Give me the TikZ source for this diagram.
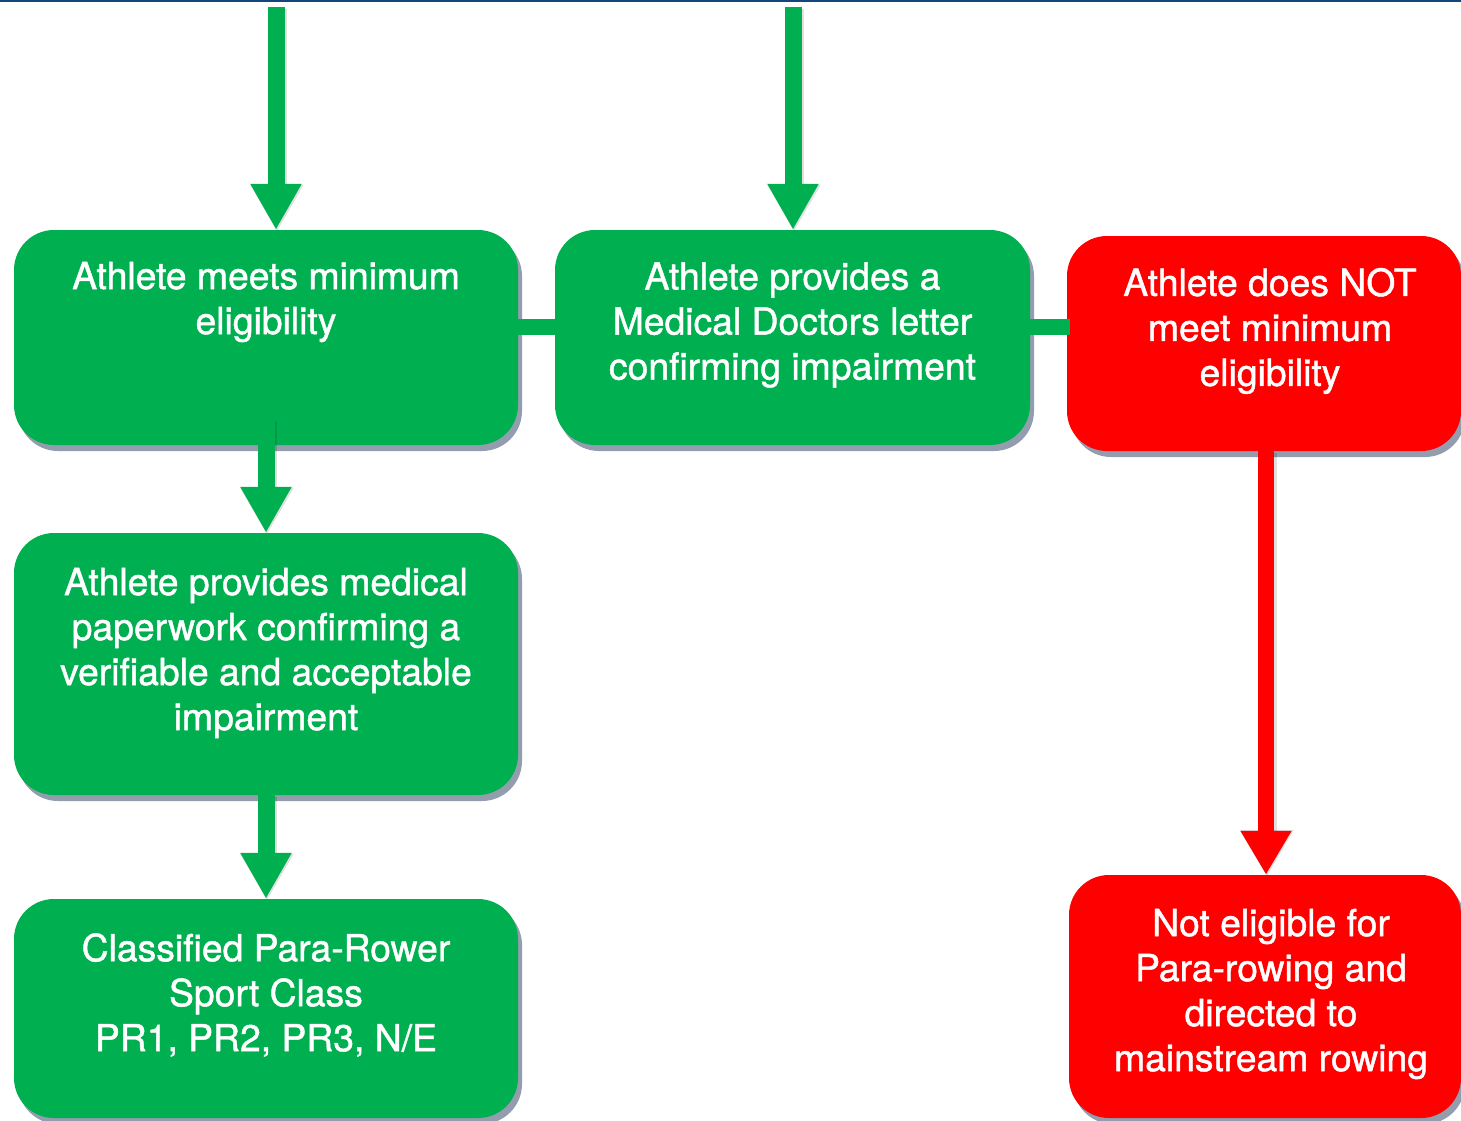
\documentclass[tikz,border=0pt]{standalone}
\usepackage{fontspec}
\setmainfont{Liberation Sans}
\newfontfamily\boxfont{TeX Gyre Heros}[FakeBold=1.2]
\usetikzlibrary{arrows.meta,shadows}
\definecolor{boxgreen}{RGB}{0,176,80}
\definecolor{boxred}{RGB}{255,0,0}
\definecolor{shadowgray}{RGB}{147,157,174}
\definecolor{topblue}{RGB}{20,70,125}
\tikzset{
  box/.style={rectangle, rounded corners=40pt, inner sep=0pt, draw=none,
    drop shadow={shadow xshift=4pt, shadow yshift=-6pt, fill=shadowgray, opacity=1}},
  gbox/.style={box, fill=boxgreen},
  rbox/.style={box, fill=boxred},
  txt/.style={text=white, align=center, inner sep=0pt,
    font=\boxfont\fontsize{37.3}{45}\selectfont},
  garrow/.style={draw=boxgreen, line width=17pt, -{Triangle[width=48pt,length=46pt]}},
  rarrow/.style={draw=boxred, line width=16pt, -{Triangle[width=48pt,length=44pt]}},
  ashadow/.style={draw=black, draw opacity=0.12, line width=19pt, -{Triangle[width=50pt,length=47pt]},
    transform canvas={xshift=1pt, yshift=-2pt}},
  gline/.style={draw=boxgreen, line width=16pt},
}
\begin{document}
\begin{tikzpicture}[x=1pt,y=-1pt]
\useasboundingbox (0,0) rectangle (1461,1121);
\fill[white] (0,0) rectangle (1461,1121);
\fill[topblue] (0,0) rectangle (1461,2);
% boxes
\node[gbox, minimum width=504pt, minimum height=215pt] (A) at (266,337.5) {};
\node[gbox, minimum width=475pt, minimum height=215pt] (B) at (792.5,337.5) {};
\node[rbox, minimum width=394pt, minimum height=215pt] (C) at (1264,343.5) {};
\node[gbox, minimum width=504pt, minimum height=262pt] (D) at (266,664) {};
\node[gbox, minimum width=504pt, minimum height=219pt] (E) at (266,1008.5) {};
\node[rbox, minimum width=392pt, minimum height=243pt] (F) at (1265,996.5) {};
% coordinates for free ends
\coordinate (t1) at (276,7);
\coordinate (t2) at (793,7);
\coordinate (a1) at (266,419);
\coordinate (r1) at (1266,0);
\coordinate (h1) at (0,327);
% connector shadows
\draw[ashadow] (t1) -- (t1 |- A.north);
\draw[ashadow] (t2) -- (t2 |- B.north);
\draw[ashadow] (a1) -- (a1 |- D.north);
\draw[ashadow] (D.south) -- (E.north);
\draw[ashadow] (r1 |- C.south) -- (r1 |- F.north);
% connectors
\draw[garrow] (t1) -- (t1 |- A.north);
\draw[garrow] (t2) -- (t2 |- B.north);
\draw[gline] (A.east |- h1) -- (B.west |- h1);
\draw[gline] (B.east |- h1) -- ([xshift=3pt]C.west |- h1);
\draw[garrow] (a1) -- (a1 |- D.north);
\draw[garrow] (D.south) -- (E.north);
\draw[rarrow] (r1 |- C.south) -- (r1 |- F.north);
% texts
\node[txt] (At) at (266,302) {Athlete meets minimum\\eligibility};
\node[txt] (Bt) at (792.5,325) {Athlete provides a\\Medical Doctors letter\\confirming impairment};
\node[txt] (Ct) at (1270,331) {Athlete does NOT\\meet minimum\\eligibility};
\node[txt] (Dt) at (266,653) {Athlete provides medical\\paperwork confirming a\\verifiable and acceptable\\impairment};
\node[txt] (Et) at (266,995) {Classified Para-Rower\\Sport Class\\PR1, PR2, PR3, N/E};
\node[txt] (Ft) at (1271,994) {Not eligible for\\Para-rowing and\\directed to\\mainstream rowing};
\end{tikzpicture}
\end{document}
